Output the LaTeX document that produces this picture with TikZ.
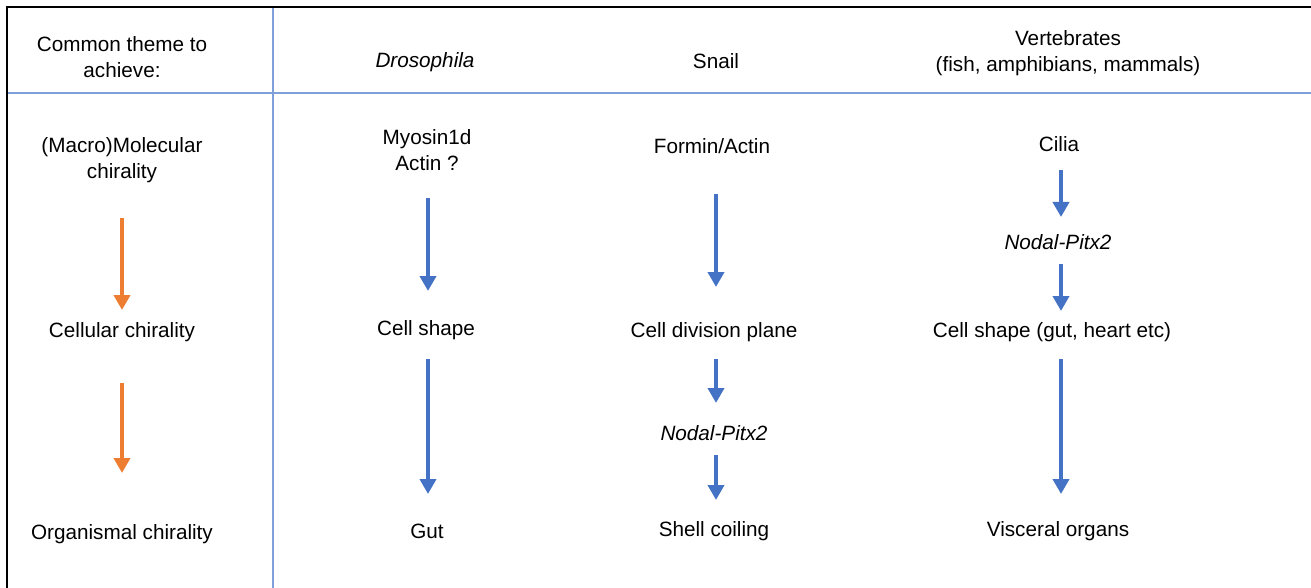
\documentclass[tikz,border=0pt]{standalone}
\usepackage{fontspec}
\setmainfont{Liberation Sans}
\usetikzlibrary{arrows.meta}
\definecolor{arrowblue}{HTML}{4472C4}
\definecolor{arroworange}{HTML}{ED7D31}
\definecolor{gridblue}{HTML}{7F9FD8}
\begin{document}
\begin{tikzpicture}[x=1pt,y=-1pt,
  txt/.style={font=\fontsize{20.7}{26.5}\selectfont, align=center, inner sep=0pt, anchor=center},
  itx/.style={txt, font=\fontsize{20.7}{26.5}\selectfont\itshape},
  barrow/.style={draw=arrowblue, line width=4pt, -{Triangle[width=16pt,length=15pt]}, arrowblue},
  oarrow/.style={draw=arroworange, line width=4pt, -{Triangle[width=16pt,length=15pt]}, arroworange},
  frame/.style={draw=black, line width=2pt},
  grid/.style={draw=gridblue, line width=1.5pt}]
\useasboundingbox (0,0) rectangle (1311,588);
\fill[white] (0,0) rectangle (1311,588);
% grid lines
\draw[grid] (7,93) -- (1311,93);
\draw[grid] (273,7) -- (273,588);
\draw[frame] (7,588) -- (7,7) -- (1311,7);
% header
\node[txt] (h1) at (122,57) {Common theme to\\achieve:};
\node[itx] (h2) at (425,62) {Drosophila};
\node[txt] (h3) at (716,61) {Snail};
\node[txt] (h4) at (1068,53) {Vertebrates\\(fish, amphibians, mammals)};
% column 1
\node[txt] (m1) at (122,160) {(Macro)Molecular\\chirality};
\node[txt] (c1) at (122,332) {Cellular chirality};
\node[txt] (o1) at (122,534) {Organismal chirality};
\coordinate (a1s) at (122,218); \coordinate (a1e) at (122,310);
\coordinate (a2s) at (122,383); \coordinate (a2e) at (122,473);
\draw[oarrow] (a1s) -- (a1e);
\draw[oarrow] (a2s) -- (a2e);
% column 2
\node[txt] (m2) at (427,150) {Myosin1d\\Actin ?};
\node[txt] (c2) at (426,330) {Cell shape};
\node[txt] (o2) at (427,531) {Gut};
\coordinate (b1s) at (428,198); \coordinate (b1e) at (428,291);
\coordinate (b2s) at (428,359); \coordinate (b2e) at (428,494);
\draw[barrow] (b1s) -- (b1e);
\draw[barrow] (b2s) -- (b2e);
% column 3
\node[txt] (m3) at (712,146) {Formin/Actin};
\node[txt] (c3) at (714,332) {Cell division plane};
\node[itx] (n3) at (714,433) {Nodal-Pitx2};
\node[txt] (o3) at (714,531) {Shell coiling};
\coordinate (d1s) at (716,194); \coordinate (d1e) at (716,287);
\coordinate (d2s) at (716,359); \coordinate (d2e) at (716,403);
\coordinate (d3s) at (716,455); \coordinate (d3e) at (716,500);
\draw[barrow] (d1s) -- (d1e);
\draw[barrow] (d2s) -- (d2e);
\draw[barrow] (d3s) -- (d3e);
% column 4
\node[txt] (m4) at (1059,144) {Cilia};
\node[itx] (n4) at (1058,242) {Nodal-Pitx2};
\node[txt] (c4) at (1052,332) {Cell shape (gut, heart etc)};
\node[txt] (o4) at (1058,531) {Visceral organs};
\coordinate (e1s) at (1061,170); \coordinate (e1e) at (1061,217);
\coordinate (e2s) at (1061,264); \coordinate (e2e) at (1061,311);
\coordinate (e3s) at (1061,359); \coordinate (e3e) at (1061,494);
\draw[barrow] (e1s) -- (e1e);
\draw[barrow] (e2s) -- (e2e);
\draw[barrow] (e3s) -- (e3e);
\end{tikzpicture}
\end{document}
